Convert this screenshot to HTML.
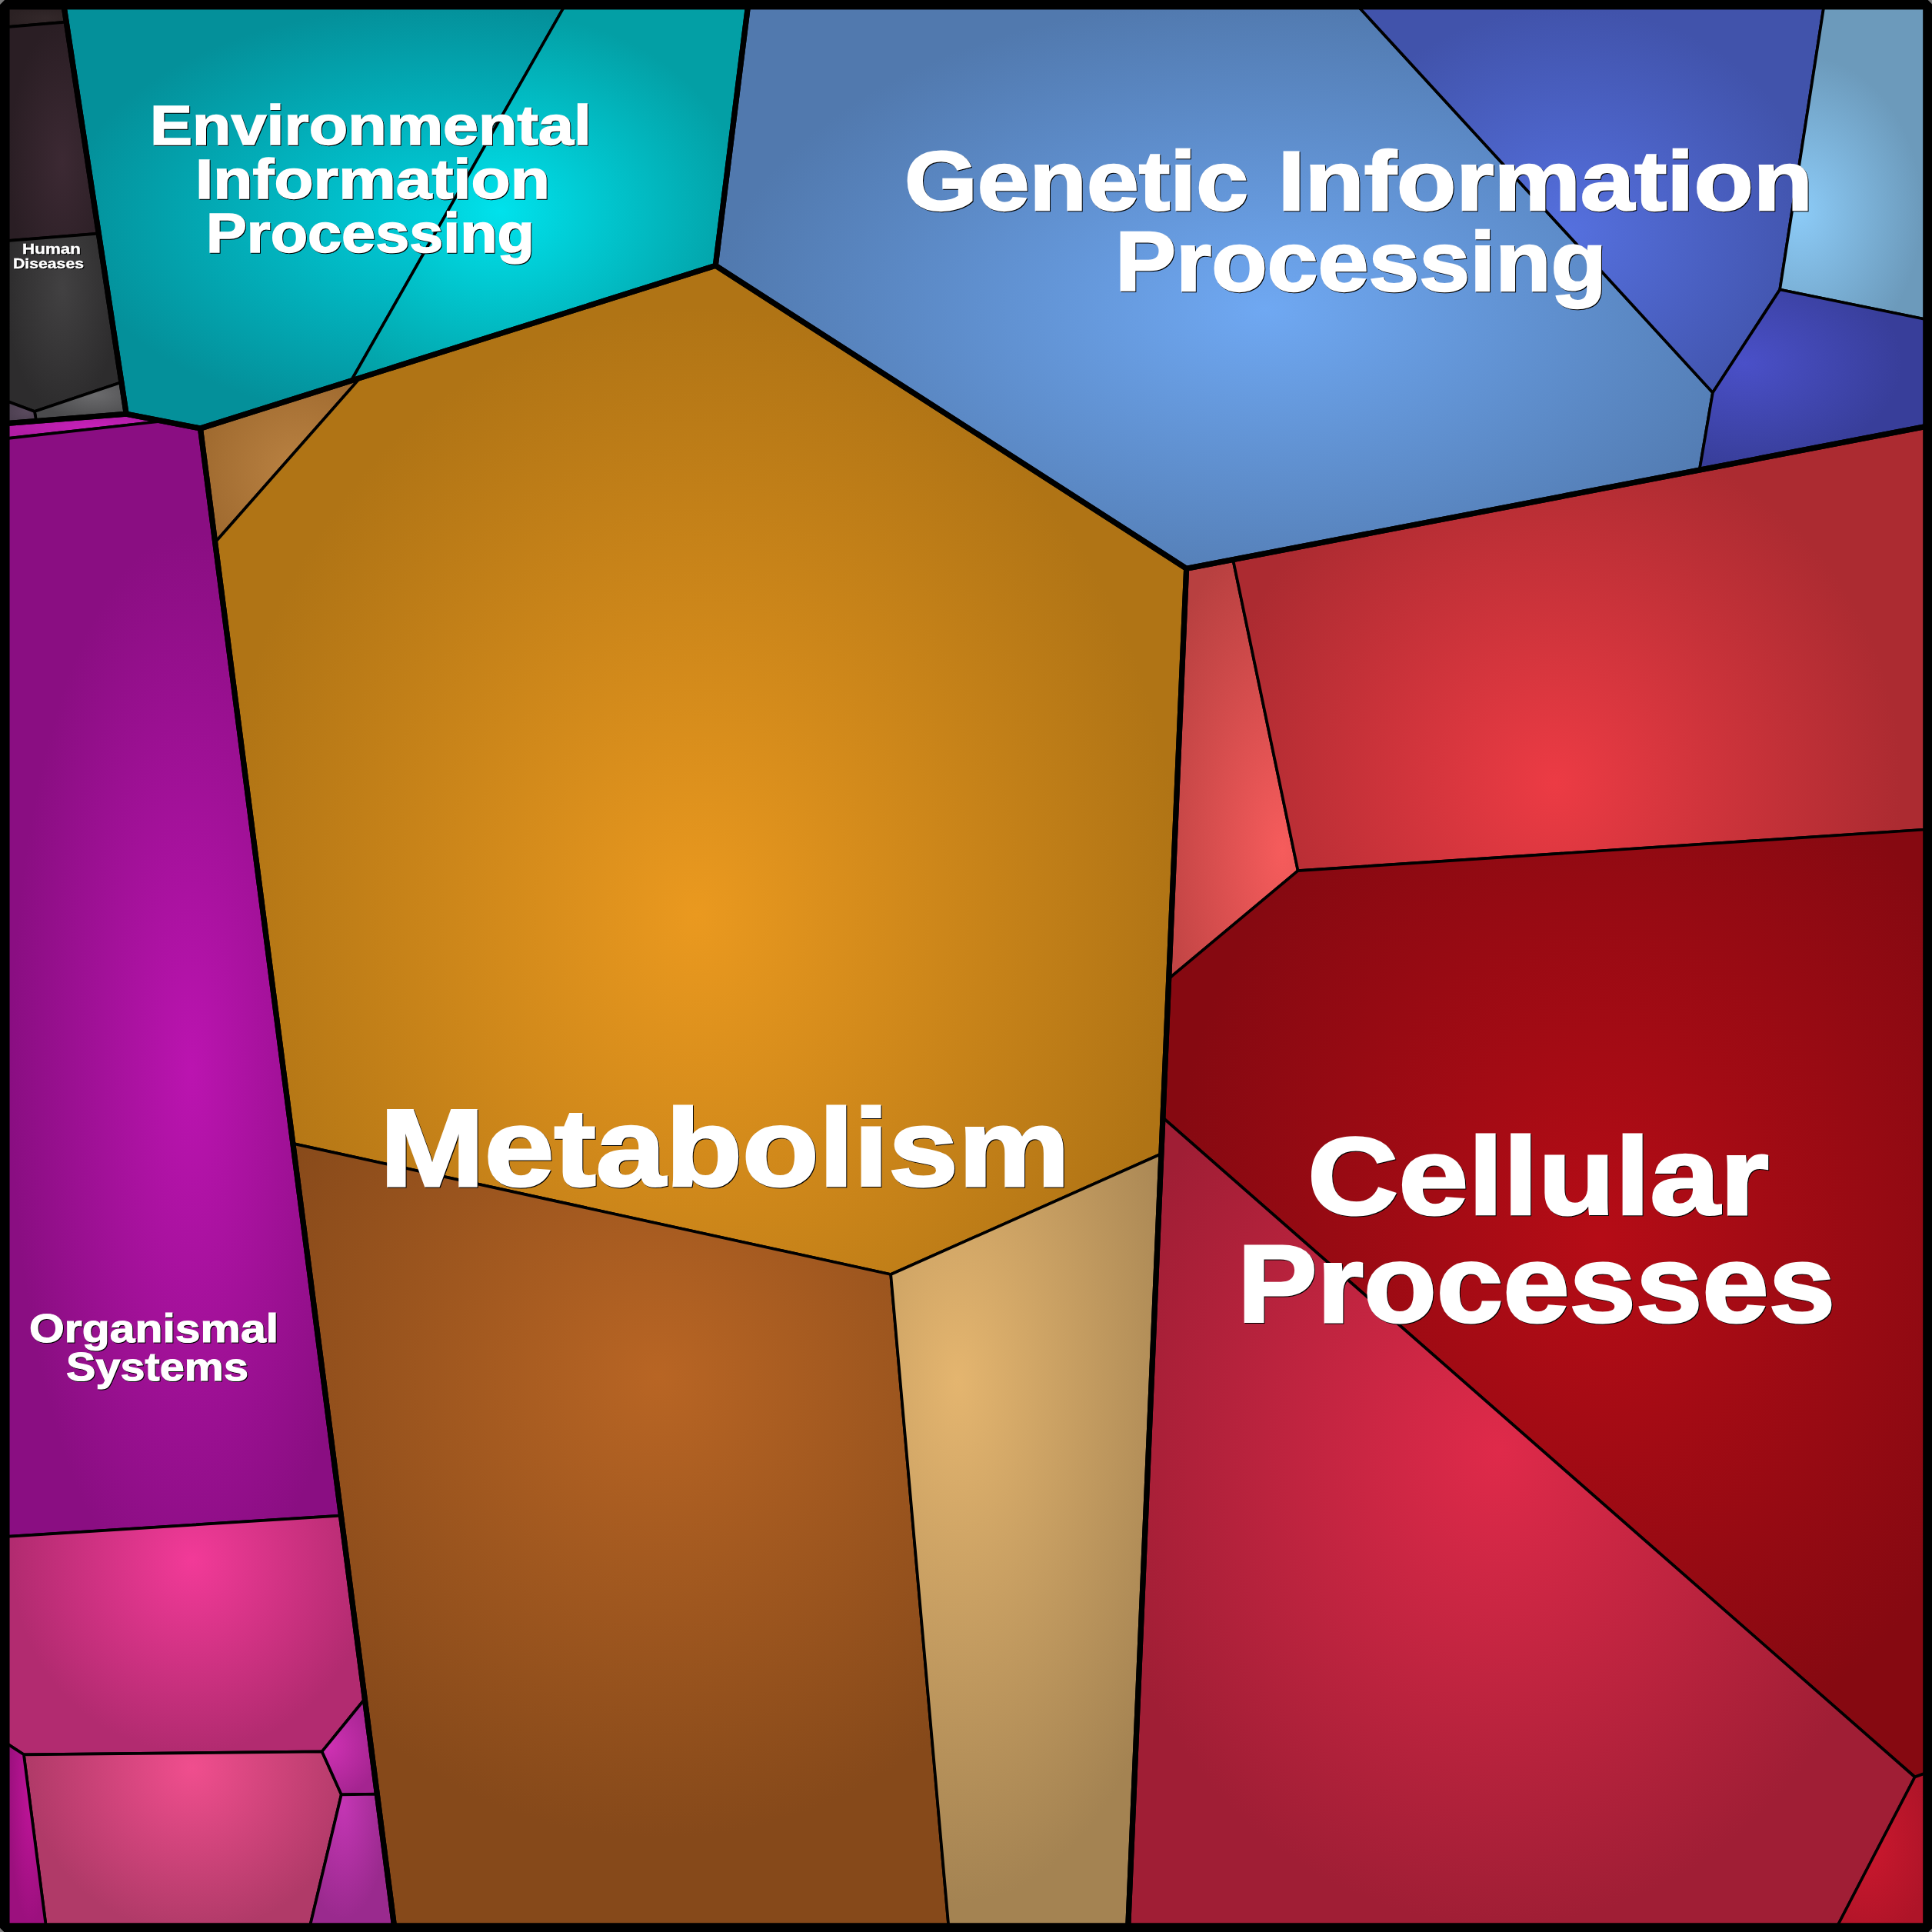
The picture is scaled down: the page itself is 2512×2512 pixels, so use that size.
<!DOCTYPE html>
<html><head><meta charset="utf-8"><title>Proteomap</title>
<style>
html,body{margin:0;padding:0;background:#000;}
body{width:2512px;height:2512px;overflow:hidden;}
svg{display:block;}
text{font-family:"Liberation Sans",sans-serif;font-weight:bold;}
</style></head><body>
<svg width="2512" height="2512" viewBox="0 0 2512 2512">
<defs>
<radialGradient id="g_hd1" gradientUnits="userSpaceOnUse" cx="0" cy="0" r="1" gradientTransform="translate(60.0 24.0) scale(50.8 14.5)"><stop offset="0" stop-color="#33282a"/><stop offset="1" stop-color="#2b2123"/></radialGradient>
<radialGradient id="g_hd2" gradientUnits="userSpaceOnUse" cx="0" cy="0" r="1" gradientTransform="translate(81.0 211.0) scale(69.8 179.3)"><stop offset="0" stop-color="#3c2933"/><stop offset="1" stop-color="#2a1e24"/></radialGradient>
<radialGradient id="g_hd3" gradientUnits="userSpaceOnUse" cx="0" cy="0" r="1" gradientTransform="translate(81.0 374.0) scale(74.6 160.8)"><stop offset="0" stop-color="#424142"/><stop offset="1" stop-color="#2d2c2d"/></radialGradient>
<radialGradient id="g_hd4" gradientUnits="userSpaceOnUse" cx="0" cy="0" r="1" gradientTransform="translate(123.0 513.0) scale(74.0 33.2)"><stop offset="0" stop-color="#6b6b6d"/><stop offset="1" stop-color="#4b4b4d"/></radialGradient>
<radialGradient id="g_hd5" gradientUnits="userSpaceOnUse" cx="0" cy="0" r="1" gradientTransform="translate(35.0 535.0) scale(26.2 14.5)"><stop offset="0" stop-color="#5a4a5e"/><stop offset="1" stop-color="#4d4051"/></radialGradient>
<radialGradient id="g_env1" gradientUnits="userSpaceOnUse" cx="0" cy="0" r="1" gradientTransform="translate(575.0 280.0) scale(491.8 274.1)"><stop offset="0" stop-color="#00d0dc"/><stop offset="1" stop-color="#04909a"/></radialGradient>
<radialGradient id="g_env2" gradientUnits="userSpaceOnUse" cx="0" cy="0" r="1" gradientTransform="translate(650.0 274.0) scale(321.4 257.5)"><stop offset="0" stop-color="#00e2ec"/><stop offset="1" stop-color="#039fa5"/></radialGradient>
<radialGradient id="g_gen1" gradientUnits="userSpaceOnUse" cx="0" cy="0" r="1" gradientTransform="translate(1645.0 402.0) scale(715.0 405.0)"><stop offset="0" stop-color="#6fa8f2"/><stop offset="1" stop-color="#5179ae"/></radialGradient>
<radialGradient id="g_gen2" gradientUnits="userSpaceOnUse" cx="0" cy="0" r="1" gradientTransform="translate(2040.0 300.0) scale(327.3 290.1)"><stop offset="0" stop-color="#5570de"/><stop offset="1" stop-color="#4153ab"/></radialGradient>
<radialGradient id="g_gen3" gradientUnits="userSpaceOnUse" cx="0" cy="0" r="1" gradientTransform="translate(2340.0 275.0) scale(159.3 203.2)"><stop offset="0" stop-color="#8ccbf7"/><stop offset="1" stop-color="#6c9abb"/></radialGradient>
<radialGradient id="g_gen4" gradientUnits="userSpaceOnUse" cx="0" cy="0" r="1" gradientTransform="translate(2268.0 472.0) scale(205.0 135.0)"><stop offset="0" stop-color="#4a50c8"/><stop offset="1" stop-color="#383e9a"/></radialGradient>
<radialGradient id="g_met1" gradientUnits="userSpaceOnUse" cx="0" cy="0" r="1" gradientTransform="translate(388.0 612.0) scale(150.0 150.0)"><stop offset="0" stop-color="#ba8242"/><stop offset="1" stop-color="#9c672d"/></radialGradient>
<radialGradient id="g_met2" gradientUnits="userSpaceOnUse" cx="0" cy="0" r="1" gradientTransform="translate(905.0 1190.0) scale(631.0 790.0)"><stop offset="0" stop-color="#ea991f"/><stop offset="1" stop-color="#b07415"/></radialGradient>
<radialGradient id="g_met3" gradientUnits="userSpaceOnUse" cx="0" cy="0" r="1" gradientTransform="translate(856.0 1790.0) scale(580.0 600.0)"><stop offset="0" stop-color="#b86524"/><stop offset="1" stop-color="#86491a"/></radialGradient>
<radialGradient id="g_met4" gradientUnits="userSpaceOnUse" cx="0" cy="0" r="1" gradientTransform="translate(1245.0 1795.0) scale(330.0 680.0)"><stop offset="0" stop-color="#e4b56f"/><stop offset="1" stop-color="#a48352"/></radialGradient>
<radialGradient id="g_cel1" gradientUnits="userSpaceOnUse" cx="0" cy="0" r="1" gradientTransform="translate(1668.0 1105.0) scale(185.0 420.0)"><stop offset="0" stop-color="#f65c5c"/><stop offset="1" stop-color="#b84040"/></radialGradient>
<radialGradient id="g_cel2" gradientUnits="userSpaceOnUse" cx="0" cy="0" r="1" gradientTransform="translate(2022.0 1018.0) scale(450.4 462.7)"><stop offset="0" stop-color="#ec3b44"/><stop offset="1" stop-color="#ac2b31"/></radialGradient>
<radialGradient id="g_cel3" gradientUnits="userSpaceOnUse" cx="0" cy="0" r="1" gradientTransform="translate(2080.0 1612.0) scale(563.6 692.0)"><stop offset="0" stop-color="#b50c16"/><stop offset="1" stop-color="#860911"/></radialGradient>
<radialGradient id="g_cel4" gradientUnits="userSpaceOnUse" cx="0" cy="0" r="1" gradientTransform="translate(1950.0 1885.0) scale(531.5 618.2)"><stop offset="0" stop-color="#df2a4a"/><stop offset="1" stop-color="#a01e35"/></radialGradient>
<radialGradient id="g_cel5" gradientUnits="userSpaceOnUse" cx="0" cy="0" r="1" gradientTransform="translate(2425.0 2395.0) scale(90.0 130.0)"><stop offset="0" stop-color="#cc182e"/><stop offset="1" stop-color="#ae1428"/></radialGradient>
<radialGradient id="g_org0" gradientUnits="userSpaceOnUse" cx="0" cy="0" r="1" gradientTransform="translate(120.0 555.0) scale(111.1 16.7)"><stop offset="0" stop-color="#c721b9"/><stop offset="1" stop-color="#b01ca4"/></radialGradient>
<radialGradient id="g_org1" gradientUnits="userSpaceOnUse" cx="0" cy="0" r="1" gradientTransform="translate(249.0 1392.0) scale(236.0 700.0)"><stop offset="0" stop-color="#bb14b0"/><stop offset="1" stop-color="#8a0e82"/></radialGradient>
<radialGradient id="g_org2" gradientUnits="userSpaceOnUse" cx="0" cy="0" r="1" gradientTransform="translate(250.0 2028.0) scale(235.0 250.0)"><stop offset="0" stop-color="#f23a98"/><stop offset="1" stop-color="#b22b70"/></radialGradient>
<radialGradient id="g_org3" gradientUnits="userSpaceOnUse" cx="0" cy="0" r="1" gradientTransform="translate(250.0 2298.0) scale(215.0 215.0)"><stop offset="0" stop-color="#f04e8e"/><stop offset="1" stop-color="#b03a68"/></radialGradient>
<radialGradient id="g_org4" gradientUnits="userSpaceOnUse" cx="0" cy="0" r="1" gradientTransform="translate(40.0 2330.0) scale(28.3 170.9)"><stop offset="0" stop-color="#c0149a"/><stop offset="1" stop-color="#9c107e"/></radialGradient>
<radialGradient id="g_org5" gradientUnits="userSpaceOnUse" cx="0" cy="0" r="1" gradientTransform="translate(425.0 2270.0) scale(70.0 70.0)"><stop offset="0" stop-color="#d032b4"/><stop offset="1" stop-color="#a42490"/></radialGradient>
<radialGradient id="g_org6" gradientUnits="userSpaceOnUse" cx="0" cy="0" r="1" gradientTransform="translate(446.0 2345.0) scale(60.0 150.0)"><stop offset="0" stop-color="#c436b4"/><stop offset="1" stop-color="#9a2a8e"/></radialGradient>
</defs>
<rect x="0" y="0" width="2512" height="2512" fill="#7a7a7a"/>
<g stroke="#000" stroke-width="3.7" stroke-linejoin="round">
<polygon points="8.8,8.8 83.2,8.8 86.2,28.6 8.8,35.2" fill="url(#g_hd1)"/>
<polygon points="8.8,35.2 86.2,28.6 128.3,303.6 8.8,313.1" fill="url(#g_hd2)"/>
<polygon points="8.8,313.1 128.3,303.6 157.9,497.0 44.9,534.9 8.8,521.6" fill="url(#g_hd3)"/>
<polygon points="157.9,497.0 164.2,538.2 47.1,547.5 44.9,534.9" fill="url(#g_hd4)"/>
<polygon points="8.8,521.6 44.9,534.9 47.1,547.5 8.8,550.5" fill="url(#g_hd5)"/>
<polygon points="83.2,8.8 733.4,8.8 456.6,495.0 260.5,557.0 164.2,538.2" fill="url(#g_env1)"/>
<polygon points="733.4,8.8 972.4,8.8 930.3,345.3 456.6,495.0" fill="url(#g_env2)"/>
<polygon points="972.4,8.8 1766.4,8.8 2226.9,510.4 2209.7,611.1 1542.6,739.2 930.3,345.3" fill="url(#g_gen1)"/>
<polygon points="1766.4,8.8 2371.3,8.8 2314.2,376.5 2226.9,510.4" fill="url(#g_gen2)"/>
<polygon points="2371.3,8.8 2504.0,8.8 2504.0,415.2 2314.2,376.5" fill="url(#g_gen3)"/>
<polygon points="2314.2,376.5 2504.0,415.2 2504.0,554.6 2209.7,611.1 2226.9,510.4" fill="url(#g_gen4)"/>
<polygon points="260.5,557.0 468.2,491.4 279.7,705.3" fill="url(#g_met1)"/>
<polygon points="468.2,491.4 930.3,345.3 1542.6,739.2 1509.9,1500.3 1158.2,1657.0 380.9,1486.9 279.7,705.3" fill="url(#g_met2)"/>
<polygon points="380.9,1486.9 1158.2,1657.0 1233.3,2504.0 512.5,2504.0" fill="url(#g_met3)"/>
<polygon points="1158.2,1657.0 1509.9,1500.3 1466.8,2504.0 1233.3,2504.0" fill="url(#g_met4)"/>
<polygon points="1542.6,739.2 1603.2,727.6 1687.6,1132.1 1519.7,1272.5" fill="url(#g_cel1)"/>
<polygon points="1603.2,727.6 2504.0,554.6 2504.0,1078.5 1687.6,1132.1" fill="url(#g_cel2)"/>
<polygon points="1687.6,1132.1 2504.0,1078.5 2504.0,2305.2 2489.7,2310.5 1511.9,1453.2 1519.7,1272.5" fill="url(#g_cel3)"/>
<polygon points="1511.9,1453.2 2489.7,2310.5 2389.1,2504.0 1466.8,2504.0" fill="url(#g_cel4)"/>
<polygon points="2489.7,2310.5 2504.0,2305.2 2504.0,2504.0 2389.1,2504.0" fill="url(#g_cel5)"/>
<polygon points="8.8,550.5 164.2,538.2 212.0,547.5 8.8,570.1" fill="url(#g_org0)"/>
<polygon points="8.8,570.1 212.0,547.5 260.5,557.0 443.5,1970.6 8.8,1997.8" fill="url(#g_org1)"/>
<polygon points="8.8,1997.8 443.5,1970.6 474.3,2209.0 418.7,2277.4 30.9,2281.3 8.8,2266.9" fill="url(#g_org2)"/>
<polygon points="30.9,2281.3 418.7,2277.4 443.8,2333.3 403.1,2504.0 59.7,2504.0" fill="url(#g_org3)"/>
<polygon points="8.8,2266.9 30.9,2281.3 59.7,2504.0 8.8,2504.0" fill="url(#g_org4)"/>
<polygon points="418.7,2277.4 474.3,2209.0 490.3,2332.6 443.8,2333.3" fill="url(#g_org5)"/>
<polygon points="443.8,2333.3 490.3,2332.6 512.5,2504.0 403.1,2504.0" fill="url(#g_org6)"/>
</g>
<g fill="none" stroke="#000" stroke-width="7.1" stroke-linejoin="round">
<polygon points="8.8,8.8 83.2,8.8 164.2,538.2 8.8,550.5"/>
<polygon points="83.2,8.8 972.4,8.8 930.3,345.3 260.5,557.0 164.2,538.2"/>
<polygon points="972.4,8.8 2504.0,8.8 2504.0,554.6 1542.6,739.2 930.3,345.3"/>
<polygon points="260.5,557.0 930.3,345.3 1542.6,739.2 1466.8,2504.0 512.5,2504.0"/>
<polygon points="1542.6,739.2 2504.0,554.6 2504.0,2504.0 1466.8,2504.0"/>
<polygon points="8.8,550.5 164.2,538.2 260.5,557.0 512.5,2504.0 8.8,2504.0"/>
</g>
<rect x="6.1" y="6.1" width="2500.5" height="2500.5" fill="none" stroke="#000" stroke-width="12.4" stroke-linejoin="bevel"/>
<g fill="#fff" style="filter:drop-shadow(1.1px 1.1px 0 #000)">
<text x="195.0" y="187.8" font-size="72.2" textLength="574.0" lengthAdjust="spacingAndGlyphs" stroke="#fff" stroke-width="1.54" stroke-linejoin="miter">Environmental</text>
<text x="254.0" y="257.7" font-size="72.2" textLength="461.0" lengthAdjust="spacingAndGlyphs" stroke="#fff" stroke-width="1.54" stroke-linejoin="miter">Information</text>
<text x="268.0" y="327.5" font-size="72.2" textLength="427.0" lengthAdjust="spacingAndGlyphs" stroke="#fff" stroke-width="1.54" stroke-linejoin="miter">Processing</text>
<text x="1176.0" y="272.5" font-size="108.6" textLength="447.0" lengthAdjust="spacingAndGlyphs" stroke="#fff" stroke-width="2.31" stroke-linejoin="miter">Genetic</text>
<text x="1661.4" y="272.5" font-size="108.6" textLength="695.6" lengthAdjust="spacingAndGlyphs" stroke="#fff" stroke-width="2.31" stroke-linejoin="miter">Information</text>
<text x="1450.0" y="377.5" font-size="108.6" textLength="639.0" lengthAdjust="spacingAndGlyphs" stroke="#fff" stroke-width="2.31" stroke-linejoin="miter">Processing</text>
<text x="494.0" y="1541.7" font-size="142.1" textLength="897.0" lengthAdjust="spacingAndGlyphs" stroke="#fff" stroke-width="3.02" stroke-linejoin="miter">Metabolism</text>
<text x="1700.0" y="1579.2" font-size="142.4" textLength="600.0" lengthAdjust="spacingAndGlyphs" stroke="#fff" stroke-width="3.03" stroke-linejoin="miter">Cellular</text>
<text x="1609.0" y="1718.8" font-size="142.4" textLength="777.0" lengthAdjust="spacingAndGlyphs" stroke="#fff" stroke-width="3.03" stroke-linejoin="miter">Processes</text>
<text x="38.0" y="1745.0" font-size="51.7" textLength="324.0" lengthAdjust="spacingAndGlyphs" stroke="#fff" stroke-width="1.10" stroke-linejoin="miter">Organismal</text>
<text x="86.0" y="1795.4" font-size="51.7" textLength="237.0" lengthAdjust="spacingAndGlyphs" stroke="#fff" stroke-width="1.10" stroke-linejoin="miter">Systems</text>
<text x="29.0" y="330.3" font-size="19.0" textLength="76.0" lengthAdjust="spacingAndGlyphs" stroke="#fff" stroke-width="0.40" stroke-linejoin="miter">Human</text>
<text x="17.0" y="349.4" font-size="19.0" textLength="92.0" lengthAdjust="spacingAndGlyphs" stroke="#fff" stroke-width="0.40" stroke-linejoin="miter">Diseases</text>
</g>
</svg>
</body></html>
